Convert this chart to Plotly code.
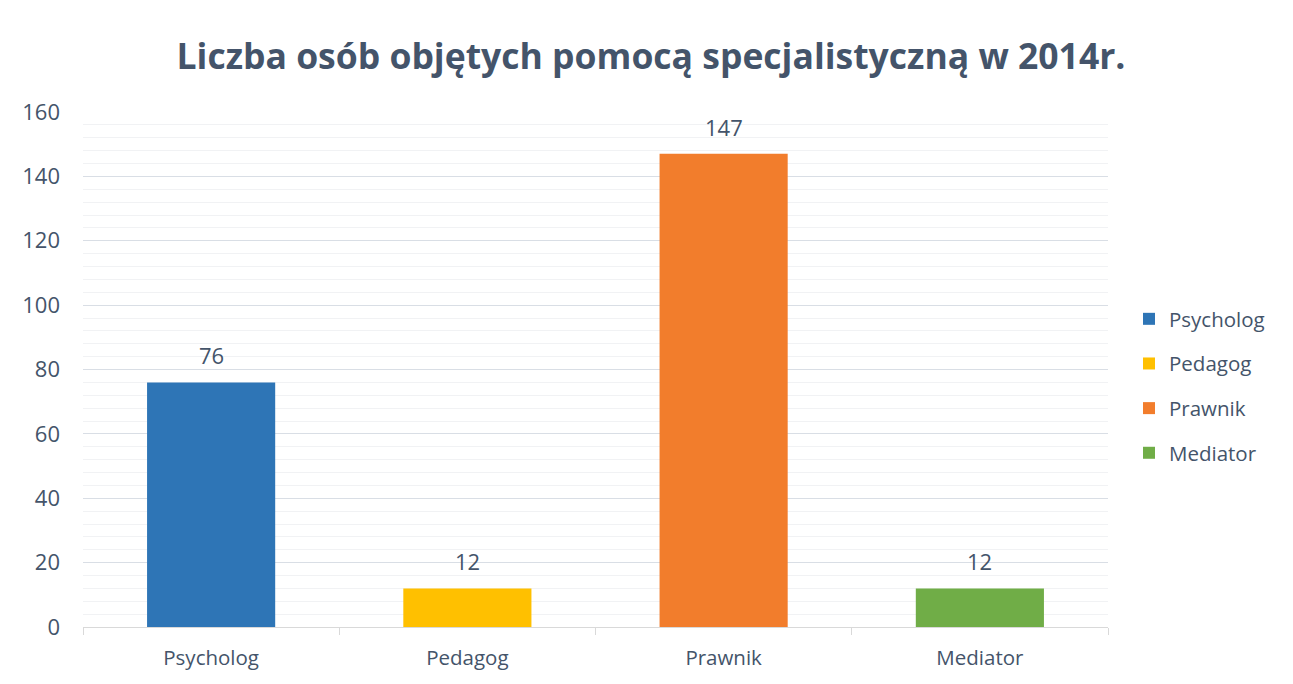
import plotly.graph_objects as go

categories = ["Psycholog", "Pedagog", "Prawnik", "Mediator"]
values = [76, 12, 147, 12]
colors = ["#2E75B6", "#FFC000", "#F27D2C", "#70AD47"]
title_text = "Liczba osób objętych pomocą specjalistyczną w 2014r."

FONT = "Open Sans"
TXT = "#44546A"

# the page body has an 8px margin; work in screen pixels and shift
OFF = 8
SW, SH = 1293, 684
W, H = SW - OFF, SH - OFF
L, R, T, B = 83 - OFF, SW - 1108, 112 - OFF, SH - 627
pw, ph = W - L - R, H - T - B

def px_x(x):
    return (x - OFF - L) / pw

def px_y(y):
    return (H - B - (y - OFF)) / ph

fig = go.Figure()
for c, v, col in zip(categories, values, colors):
    fig.add_trace(go.Bar(
        x=[c], y=[v], name=c, marker=dict(color=col, line=dict(width=0)),
        width=0.5, legendgroup=c,
    ))
    fig.add_annotation(x=c, y=v, xref="x", yref="y", text=str(v), showarrow=False,
                       yanchor="bottom", yshift=10,
                       font=dict(family=FONT, size=22, color=TXT))

fig.update_layout(
    width=W, height=H,
    margin=dict(l=L, r=R, t=T, b=B),
    paper_bgcolor="white", plot_bgcolor="white",
    barmode="overlay",
    title=dict(text="<b>" + title_text + "</b>", x=(651 - OFF) / W, xref="container",
               xanchor="center",
               y=1 - (57 - OFF) / H, yanchor="middle",
               font=dict(family=FONT, size=35.5, color=TXT)),
    font=dict(family=FONT, size=20.5, color=TXT),
    legend=dict(x=px_x(1129), y=px_y(386), xanchor="left", yanchor="middle",
                font=dict(family=FONT, size=20.5, color=TXT),
                traceorder="grouped", tracegroupgap=15, itemwidth=30),
    showlegend=True,
)
fig.update_xaxes(
    type="category", showgrid=False, tickson="boundaries", ticks="outside",
    ticklen=7, tickcolor="#D9D9D9", showline=True, linecolor="#D9D9D9", linewidth=1,
    ticklabelstandoff=12,
    tickfont=dict(family=FONT, size=20.5, color=TXT), fixedrange=True,
)
fig.update_yaxes(
    range=[0, 160], dtick=20, showgrid=True, gridcolor="#D9DEE5", gridwidth=1,
    zeroline=False, showline=False, ticks="", ticklabelstandoff=22,
    tickfont=dict(family=FONT, size=22, color=TXT), fixedrange=True,
    minor=dict(dtick=4, showgrid=True, gridcolor="#F1F2F4", gridwidth=1),
)
fig.add_shape(type="rect", xref="paper", yref="paper",
              x0=px_x(7), x1=px_x(1290), y0=px_y(690), y1=px_y(7),
              line=dict(color="#E2E2E8", width=1), fillcolor="rgba(0,0,0,0)", layer="below")

fig.write_html("out.html")
